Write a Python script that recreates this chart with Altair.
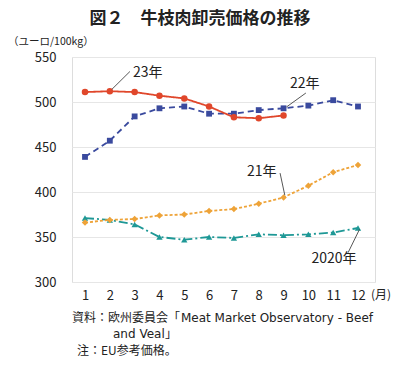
import altair as alt
import pandas as pd

months = list(range(1, 13))
y2023 = [511, 512, 511, 507, 504, 495, 483, 482, 485]
y2022 = [439, 457, 484, 493, 495, 487, 487, 491, 493, 496, 502, 495]
y2021 = [366, 369, 370, 374, 375, 379, 381, 387, 394, 407, 422, 430]
y2020 = [371, 369, 364, 350, 347, 350, 349, 353, 352, 353, 355, 360]

ann_text = ["23年", "22年", "21年", "2020年"]
ann_x = [2.93, 9.26, 8.72, 11.03]
ann_y = [532.6, 520.0, 422.6, 325.6]
ann_align = ["left", "left", "right", "center"]
lead_x = [2.08, 9.90, 8.86, 11.60]
lead_y = [514.0, 510.0, 421.0, 332.6]
lead_x2 = [2.81, 9.12, 9.05, 12.06]
lead_y2 = [533.9, 494.5, 396.5, 358.5]

FONT = "Noto Sans CJK JP"
W, H = 303, 225
XDOM = [0.476, 12.685]

x_enc = alt.X("month:Q", scale=alt.Scale(domain=XDOM, nice=False, zero=False),
              axis=alt.Axis(values=months, grid=False, domain=False, ticks=False,
                            labelFontSize=13, labelColor="#222", labelFont=FONT,
                            labelPadding=7, title=None, format="d"))
y_enc = alt.Y("value:Q", scale=alt.Scale(domain=[300, 550], nice=False, zero=False),
              axis=alt.Axis(values=[300, 350, 400, 450, 500, 550], grid=True,
                            gridColor="#e6e6e6", domain=False, ticks=False,
                            labelFontSize=13, labelColor="#222", labelFont=FONT,
                            labelPadding=16, title=None))

def series(vals, color, dash, shape, size):
    df = pd.DataFrame({"month": months[:len(vals)], "value": vals})
    base = alt.Chart(df)
    ln = base.mark_line(color=color, strokeWidth=1.8, strokeDash=dash).encode(x=x_enc, y=y_enc)
    pt = base.mark_point(color=color, shape=shape, filled=True, size=size, opacity=1).encode(x=x_enc, y=y_enc)
    return [ln, pt]

layers = []
layers += series(y2020, "#1e9896", [9, 3, 2, 3], "triangle-up", 40)
layers += series(y2021, "#eea338", [3, 2], "diamond", 42)
layers += series(y2022, "#3a4a9e", [6, 4], "square", 34)
layers += series(y2023, "#e0472b", [1, 0], "circle", 42)

lead_df = pd.DataFrame({"month": lead_x, "value": lead_y, "m2": lead_x2, "v2": lead_y2})
leaders = alt.Chart(lead_df).mark_rule(color="#444", strokeWidth=0.9).encode(
    x=x_enc, y=y_enc, x2="m2:Q", y2="v2:Q")
layers.append(leaders)

for t, xx, yy, al in zip(ann_text, ann_x, ann_y, ann_align):
    d = pd.DataFrame({"month": [xx], "value": [yy], "t": [t]})
    layers.append(alt.Chart(d).mark_text(font=FONT, fontSize=14, color="#222", align=al,
                                         baseline="middle").encode(x=x_enc, y=y_enc, text="t:N"))

def ptext(txt, x, y, size, align="left", weight="normal", font=FONT, baseline="middle"):
    d = pd.DataFrame({"t": [txt]})
    return alt.Chart(d).mark_text(font=font, fontSize=size, color="#222", align=align,
                                  baseline=baseline, fontWeight=weight).encode(
        x=alt.value(x), y=alt.value(y), text="t:N")

OX, OY = 72, 57
layers.append(ptext("図２　牛枝肉卸売価格の推移", 200 - OX, 11 - OY, 17, "center", "bold", baseline="top"))
layers.append(ptext("（ユーロ/100kg）", 8 - OX, 42 - OY, 10.5, "left"))
layers.append(ptext("(月)", 371 - OX, 295 - OY, 12, "left"))
layers.append(ptext("資料：欧州委員会「", 72 - OX, 318 - OY, 12, "left"))
layers.append(ptext("Meat Market Observatory - Beef", 181 - OX, 318 - OY, 12, "left", font="DejaVu Sans"))
layers.append(ptext("and Veal", 113 - OX, 334 - OY, 12, "left", font="DejaVu Sans"))
layers.append(ptext("」", 165 - OX, 334 - OY, 12, "left"))
layers.append(ptext("注：EU参考価格。", 77 - OX, 351 - OY, 12, "left"))

chart = alt.layer(*layers).properties(
    width=W, height=H,
    autosize=alt.AutoSizeParams(type="none"),
    padding={"left": OX - 8, "top": OY - 8, "right": 384 - (OX - 8) - W, "bottom": 354 - (OY - 8) - H},
).configure_view(stroke=None).configure(background="white")

chart.save("out.html", embed_options={"renderer": "svg", "actions": False})
